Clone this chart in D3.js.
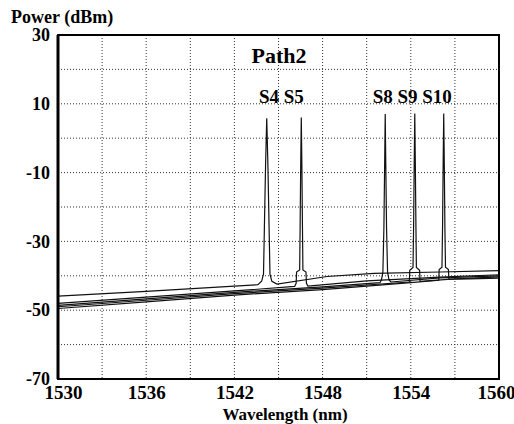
<!DOCTYPE html>
<html>
<head>
<meta charset="utf-8">
<script src="https://cdn.jsdelivr.net/npm/d3@7"></script>
<style>
  body { margin: 0; background: #fff; }
  svg { display: block; }
  text { font-family: "Liberation Serif", "Times New Roman", serif; font-weight: bold; fill: #000; }
</style>
</head>
<body>
<div id="chart"></div>
<script>
var width = 514,
    height = 424,
    margin = {top: 35, right: 15, bottom: 45, left: 58};

// axis ticks
var xTicks = [1530, 1536, 1542, 1548, 1554, 1560];
var xGrid = [1533, 1536, 1539, 1542, 1545, 1548, 1551, 1554, 1557];
var yTicks = [30, 10, -10, -30, -50, -70];
var yGrid = [20, 10, 0, -10, -20, -30, -40, -50, -60];

// channel labels above the peaks
var labels = [
  {text: "S4 S5", x: 1545.2},
  {text: "S8 S9 S10", x: 1554.1}
];

// one OSA trace per channel: [wavelength nm, power dBm]
var traceS4 = [[1530,-45.9],[1536,-44.5],[1542,-43.0],[1543.6,-42.6],[1543.85,-41.6],[1543.98,-39.5],
  [1544.04,-26],[1544.12,-8],[1544.2,5.8],[1544.28,-8],[1544.36,-26],[1544.42,-39.5],[1544.55,-41.6],
  [1544.9,-42.4],[1548.3,-40.2],[1551.5,-39.3],[1556,-38.9],[1560,-38.5]];
var traceS5 = [[1530,-48.0],[1536,-46.2],[1542,-44.4],[1546.1,-43.1],[1546.2,-42.2],[1546.23,-38.9],
  [1546.44,-38.3],[1546.47,-26],[1546.51,-8],[1546.55,6.0],[1546.59,-8],[1546.63,-26],[1546.66,-38.3],
  [1546.87,-38.9],[1546.9,-42.2],[1547.0,-43.0],[1551,-41.5],[1556,-40.4],[1560,-39.7]];
var traceS8 = [[1530,-48.6],[1536,-46.7],[1542,-44.8],[1548,-43.2],[1551.9,-42.0],[1552.0,-41.2],
  [1552.1,-39.0],[1552.17,-26],[1552.22,-8],[1552.26,7.0],[1552.3,-8],[1552.35,-26],[1552.42,-39.0],
  [1552.52,-41.2],[1552.65,-41.8],[1556,-40.6],[1560,-40.0]];
var traceS9 = [[1530,-49.0],[1536,-47.1],[1542,-45.2],[1548,-43.6],[1553.9,-41.8],[1553.93,-38.4],
  [1554.15,-37.6],[1554.19,-26],[1554.23,-8],[1554.27,7.2],[1554.31,-8],[1554.35,-26],[1554.38,-37.6],
  [1554.6,-38.4],[1554.63,-41.6],[1557,-40.9],[1560,-40.3]];
var traceS10 = [[1530,-49.5],[1536,-47.6],[1542,-45.6],[1548,-44.0],[1554,-42.0],[1555.9,-41.3],
  [1555.93,-38.2],[1556.12,-37.5],[1556.16,-26],[1556.2,-8],[1556.24,7.2],[1556.28,-8],[1556.32,-26],
  [1556.36,-37.5],[1556.56,-38.2],[1556.59,-41.0],[1558,-40.9],[1560,-40.7]];
var traces = [traceS4, traceS5, traceS8, traceS9, traceS10];

var svg = d3.select("#chart")
  .append("svg")
    .attr("width", width)
    .attr("height", height);

var x = d3.scaleLinear()
  .domain([1530, 1560])
  .range([margin.left, width - margin.right]);

var y = d3.scaleLinear()
  .domain([-70, 30])
  .range([height - margin.bottom, margin.top]);

// dotted grid
svg.append("g")
  .selectAll("line")
  .data(xGrid)
  .enter().append("line")
    .attr("x1", function(d) { return x(d); })
    .attr("x2", function(d) { return x(d); })
    .attr("y1", y(30))
    .attr("y2", y(-70))
    .attr("stroke", "#333")
    .attr("stroke-dasharray", "1,2");

svg.append("g")
  .selectAll("line")
  .data(yGrid)
  .enter().append("line")
    .attr("x1", x(1530))
    .attr("x2", x(1560))
    .attr("y1", function(d) { return y(d); })
    .attr("y2", function(d) { return y(d); })
    .attr("stroke", "#333")
    .attr("stroke-dasharray", "1,2");

// traces
var line = d3.line()
  .x(function(d) { return x(d[0]); })
  .y(function(d) { return y(d[1]); });

svg.append("g")
  .selectAll("path")
  .data(traces)
  .enter().append("path")
    .attr("d", line)
    .attr("fill", "none")
    .attr("stroke", "#111")
    .attr("stroke-width", 1.2);

// frame
svg.append("rect")
  .attr("x", x(1530))
  .attr("y", y(30))
  .attr("width", x(1560) - x(1530))
  .attr("height", y(-70) - y(30))
  .attr("fill", "none")
  .attr("stroke", "#000")
  .attr("stroke-width", 2);

svg.append("line")
  .attr("x1", x(1530)).attr("x2", x(1530))
  .attr("y1", y(30)).attr("y2", y(-70))
  .attr("stroke", "#000")
  .attr("stroke-width", 3);

// axes labels (ticks hidden, we only use the text)
var xAxis = svg.append("g")
  .attr("transform", "translate(0," + (height - margin.bottom) + ")")
  .call(d3.axisBottom(x).tickValues(xTicks).tickFormat(function(d) { return String(d); }).tickSize(0).tickPadding(7));
xAxis.select(".domain").remove();
xAxis.selectAll("text")
  .style("font-size", "19px")
  .attr("dx", function(d) { return d === 1530 ? 5 : (d === 1560 ? -3 : 0); });

var yAxis = svg.append("g")
  .attr("transform", "translate(" + margin.left + ",0)")
  .call(d3.axisLeft(y).tickValues(yTicks).tickFormat(function(d) { return String(d); }).tickSize(0).tickPadding(8));
yAxis.select(".domain").remove();
yAxis.selectAll("text")
  .style("font-size", "18px");

svg.append("text")
  .attr("x", 11)
  .attr("y", 23)
  .style("font-size", "18px")
  .text("Power (dBm)");

svg.append("text")
  .attr("x", 285)
  .attr("y", 420)
  .attr("text-anchor", "middle")
  .style("font-size", "17px")
  .text("Wavelength (nm)");

svg.append("text")
  .attr("x", 279)
  .attr("y", 63)
  .attr("text-anchor", "middle")
  .style("font-size", "22px")
  .text("Path2");

svg.append("g")
  .selectAll("text")
  .data(labels)
  .enter().append("text")
    .attr("x", function(d) { return x(d.x); })
    .attr("y", 103)
    .attr("text-anchor", "middle")
    .style("font-size", "19px")
    .text(function(d) { return d.text; });
</script>
</body>
</html>
